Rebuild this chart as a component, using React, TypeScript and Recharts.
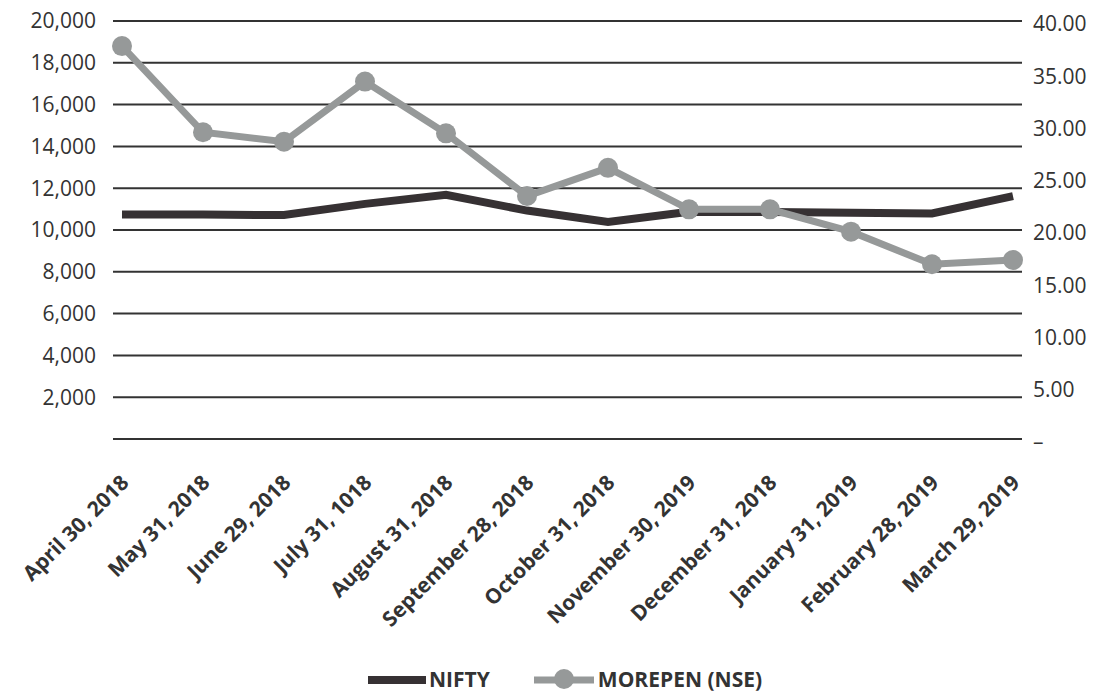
import React from "react";
import { LineChart, Line, XAxis, YAxis, CartesianGrid } from "recharts";

const categories = [
  "April 30, 2018",
  "May 31, 2018",
  "June 29, 2018",
  "July 31, 1018",
  "August 31, 2018",
  "September 28, 2018",
  "October 31, 2018",
  "November 30, 2019",
  "December 31, 2018",
  "January 31, 2019",
  "February 28, 2019",
  "March 29, 2019",
];
const nifty = [10739, 10736, 10714, 11250, 11681, 10930, 10387, 10877, 10863, 10831, 10793, 11624];
const morepen = [37.6, 29.35, 28.45, 34.2, 29.25, 23.25, 25.95, 21.98, 21.98, 19.84, 16.72, 17.13];
const leftTicks = [0, 2000, 4000, 6000, 8000, 10000, 12000, 14000, 16000, 18000, 20000];
const rightTicks = [0, 5, 10, 15, 20, 25, 30, 35, 40];

const data = categories.map((c, i) => ({ date: c, nifty: nifty[i], morepen: morepen[i] }));

const FONT = "'Open Sans', sans-serif";
const DARK = "#363133";
const GRAY = "#969999";

const XTick = (props: any) => {
  const { x, y, payload } = props;
  const tx = x + 8;
  const ty = y + 37;
  return (
    <text
      x={tx}
      y={ty}
      transform={`rotate(-45, ${tx}, ${ty})`}
      textAnchor="end"
      fontFamily={FONT}
      fontWeight={700}
      fontSize={21}
      fill="#333"
    >
      {payload.value}
    </text>
  );
};

export default function App() {
  return (
    <div style={{ position: "absolute", left: 0, top: 0, width: 1096, height: 693, background: "#fff", overflow: "hidden" }}>
      <LineChart
        width={1096}
        height={693}
        data={data}
        margin={{ top: 21, right: 0, bottom: 0, left: 0 }}
      >
        <CartesianGrid yAxisId="left" horizontal vertical={false} stroke="#333" strokeWidth={2} />
        <XAxis
          dataKey="date"
          interval={0}
          height={254}
          axisLine={false}
          tickLine={false}
          padding={{ left: 9, right: 9 }}
          tick={<XTick />}
        />
        <YAxis
          yAxisId="left"
          orientation="left"
          width={113}
          domain={[0, 20000]}
          ticks={leftTicks}
          interval={0}
          axisLine={false}
          tickLine={false}
          tickSize={0}
          tickMargin={17}
          tickFormatter={(v: number) => (v === 0 ? "" : v.toLocaleString("en-US"))}
          tick={{ fontFamily: FONT, fontSize: 21, fill: "#333" }}
        />
        <YAxis
          yAxisId="right"
          orientation="right"
          width={74}
          domain={[0, 40]}
          ticks={rightTicks}
          interval={0}
          axisLine={false}
          tickLine={false}
          tickSize={0}
          tickMargin={11}
          tickFormatter={(v: number) => (v === 0 ? "–" : v.toFixed(2))}
          tick={{ fontFamily: FONT, fontSize: 21, fill: "#333", dy: 3 }}
        />
        <Line
          yAxisId="left"
          type="linear"
          dataKey="nifty"
          stroke={DARK}
          strokeWidth={8}
          dot={false}
          isAnimationActive={false}
        />
        <Line
          yAxisId="right"
          type="linear"
          dataKey="morepen"
          stroke={GRAY}
          strokeWidth={7}
          dot={{ r: 10, fill: GRAY, stroke: "none" }}
          isAnimationActive={false}
        />
      </LineChart>
      <div
        style={{
          position: "absolute",
          top: 668,
          left: 368,
          display: "flex",
          alignItems: "center",
          fontFamily: FONT,
          fontWeight: 700,
          fontSize: 21,
          lineHeight: "22px",
          color: "#333",
          height: 22,
        }}
      >
        <svg width={58} height={22} style={{ display: "block" }}>
          <line x1={0} y1={12} x2={58} y2={12} stroke={DARK} strokeWidth={8} />
        </svg>
        <span style={{ marginLeft: 3 }}>NIFTY</span>
        <svg width={60} height={22} style={{ display: "block", marginLeft: 44 }}>
          <line x1={0} y1={12} x2={60} y2={12} stroke={GRAY} strokeWidth={7} />
          <circle cx={30} cy={11} r={10} fill={GRAY} />
        </svg>
        <span style={{ marginLeft: 4 }}>MOREPEN (NSE)</span>
      </div>
    </div>
  );
}
